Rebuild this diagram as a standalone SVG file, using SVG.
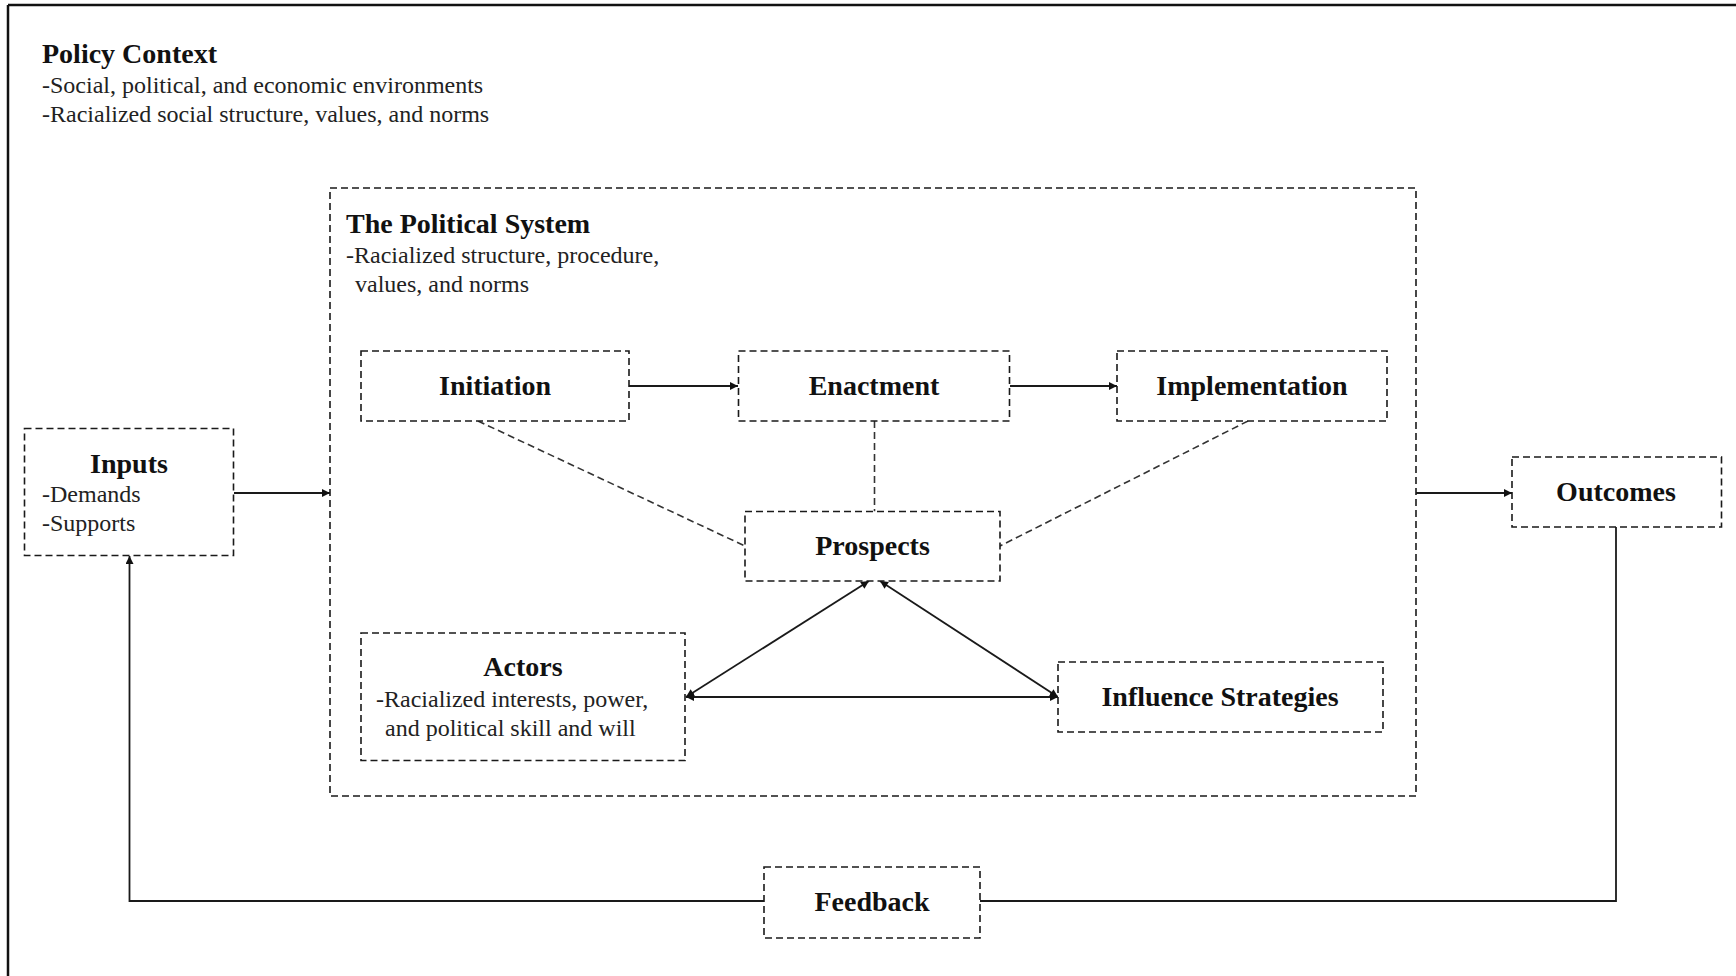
<svg xmlns="http://www.w3.org/2000/svg" width="1736" height="976" viewBox="0 0 1736 976">
<defs>
<style>
.box{fill:#fff;stroke:#1a1a1a;stroke-width:1.6;stroke-dasharray:7 4}
.sys{fill:none;stroke:#1a1a1a;stroke-width:1.6;stroke-dasharray:7 4}
.ln{fill:none;stroke:#1a1a1a;stroke-width:1.8}
.dl{fill:none;stroke:#333;stroke-width:1.6;stroke-dasharray:7 4}
.t{font-family:"Liberation Serif","Times New Roman",serif;font-weight:bold;font-size:28px;fill:#111}
.r{font-family:"Liberation Serif","Times New Roman",serif;font-size:24px;fill:#222}
</style>
<marker id="ah" viewBox="0 0 10 10" refX="10" refY="5" markerWidth="10" markerHeight="8" markerUnits="userSpaceOnUse" orient="auto-start-reverse">
<path d="M0,0 L10,5 L0,10 z" fill="#111"/>
</marker>
</defs>
<rect width="1736" height="976" fill="#fff"/>
<g id="frame">
<path d="M8,5 H1736 M8,5 V976" fill="none" stroke="#111" stroke-width="2.5"/>
</g>
<g id="policy-context">
<text class="t" x="42" y="63">Policy Context</text>
<text class="r" x="42" y="93">-Social, political, and economic environments</text>
<text class="r" x="42" y="122">-Racialized social structure, values, and norms</text>
</g>
<g id="political-system">
<rect class="sys" x="330" y="188" width="1086" height="608"/>
<text class="t" x="346" y="233">The Political System</text>
<text class="r" x="346" y="263">-Racialized structure, procedure,</text>
<text class="r" x="355" y="292">values, and norms</text>
</g>
<g id="connectors">
<line class="ln" x1="234" y1="493" x2="330" y2="493" marker-end="url(#ah)"/>
<line class="ln" x1="629" y1="386" x2="738" y2="386" marker-end="url(#ah)"/>
<line class="ln" x1="1010" y1="386" x2="1117" y2="386" marker-end="url(#ah)"/>
<line class="ln" x1="1416" y1="493" x2="1512" y2="493" marker-end="url(#ah)"/>
<line class="dl" x1="478" y1="421" x2="745" y2="546"/>
<line class="dl" x1="874.5" y1="421" x2="874.5" y2="511.5"/>
<line class="dl" x1="1248" y1="421" x2="1000" y2="546"/>
<line class="ln" x1="869" y1="581" x2="686" y2="697" marker-start="url(#ah)" marker-end="url(#ah)"/>
<line class="ln" x1="880" y1="581" x2="1058" y2="697" marker-start="url(#ah)" marker-end="url(#ah)"/>
<line class="ln" x1="686" y1="697" x2="1058" y2="697" marker-start="url(#ah)" marker-end="url(#ah)"/>
<polyline class="ln" points="1616,527 1616,901 980,901"/>
<polyline class="ln" points="764,901 129.5,901 129.5,556" marker-end="url(#ah)"/>
</g>
<g id="inputs">
<rect class="box" x="24.5" y="428.5" width="209" height="127"/>
<text class="t" x="129" y="473" text-anchor="middle">Inputs</text>
<text class="r" x="42" y="502">-Demands</text>
<text class="r" x="42" y="531">-Supports</text>
</g>
<g id="initiation">
<rect class="box" x="361" y="351" width="268" height="70"/>
<text class="t" x="495" y="395" text-anchor="middle">Initiation</text>
</g>
<g id="enactment">
<rect class="box" x="738.5" y="351" width="271" height="70"/>
<text class="t" x="874" y="395" text-anchor="middle">Enactment</text>
</g>
<g id="implementation">
<rect class="box" x="1117" y="351" width="270" height="70"/>
<text class="t" x="1252" y="395" text-anchor="middle">Implementation</text>
</g>
<g id="prospects">
<rect class="box" x="745" y="511.5" width="255" height="69.5"/>
<text class="t" x="872.5" y="555" text-anchor="middle">Prospects</text>
</g>
<g id="actors">
<rect class="box" x="361" y="633" width="324" height="127.5"/>
<text class="t" x="523" y="676" text-anchor="middle">Actors</text>
<text class="r" x="376" y="707">-Racialized interests, power,</text>
<text class="r" x="385" y="736">and political skill and will</text>
</g>
<g id="influence-strategies">
<rect class="box" x="1058" y="662" width="325" height="70"/>
<text class="t" x="1220" y="706" text-anchor="middle">Influence Strategies</text>
</g>
<g id="outcomes">
<rect class="box" x="1512" y="457" width="209.5" height="70"/>
<text class="t" x="1616" y="501" text-anchor="middle">Outcomes</text>
</g>
<g id="feedback">
<rect class="box" x="764" y="867" width="216" height="71"/>
<text class="t" x="872" y="911" text-anchor="middle">Feedback</text>
</g>
</svg>
